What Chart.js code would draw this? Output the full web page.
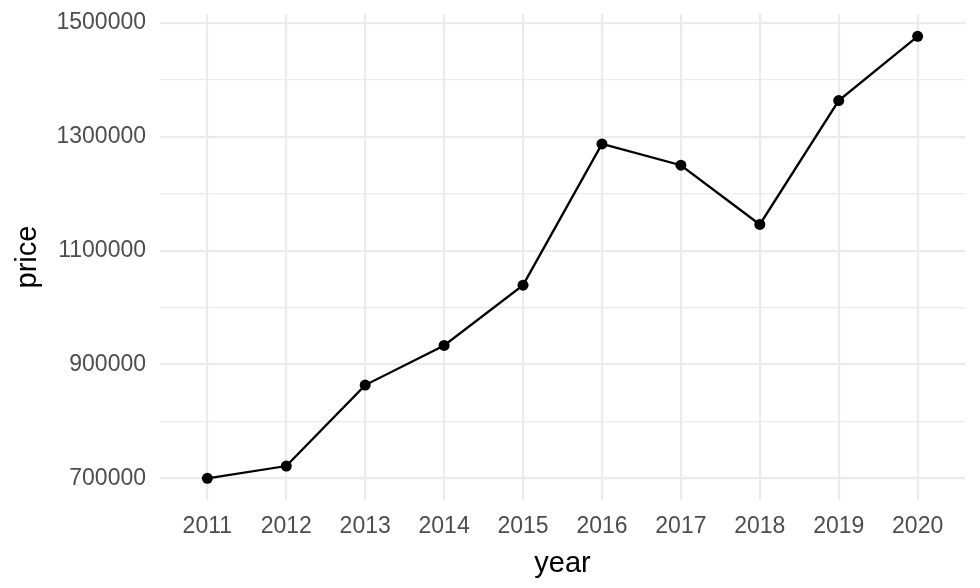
<!DOCTYPE html>
<html>
<head>
    <title>price by year</title>
    <script src="https://cdn.jsdelivr.net/npm/chart.js"></script>
    <style>
        html, body { margin: 0; padding: 0; background: #fff; }
        #wrap { width: 980px; height: 588px; }
    </style>
</head>
<body>
    <div id="wrap"><canvas id="priceChart" width="980" height="588"></canvas></div>

    <script>
    const years = [2011, 2012, 2013, 2014, 2015, 2016, 2017, 2018, 2019, 2020];
    const prices = [700000, 721600, 863800, 933500, 1039400, 1287500, 1250100, 1146000, 1363700, 1476600];
    const yGridValues = [700000, 800000, 900000, 1000000, 1100000, 1200000, 1300000, 1400000, 1500000];
    const yLabelValues = [700000, 900000, 1100000, 1300000, 1500000];

    const tickFont = { family: "'Liberation Sans', Arial, sans-serif", size: 23 };
    const titleFont = { family: "'Liberation Sans', Arial, sans-serif", size: 29 };

    new Chart(document.getElementById('priceChart').getContext('2d'), {
        type: 'line',
        data: {
            datasets: [{
                label: 'price',
                data: years.map((y, i) => ({ x: y, y: prices[i] })),
                borderColor: '#000',
                backgroundColor: '#000',
                borderWidth: 2.3,
                pointRadius: 5.5,
                pointBorderWidth: 0,
                tension: 0,
                fill: false
            }]
        },
        options: {
            responsive: false,
            animation: false,
            layout: { padding: { left: 0, right: 15, top: 14, bottom: 0 } },
            plugins: { legend: { display: false }, tooltip: { enabled: false } },
            scales: {
                x: {
                    type: 'linear',
                    min: 2010.4,
                    max: 2020.6,
                    afterBuildTicks: axis => { axis.ticks = years.map(v => ({ value: v })); },
                    afterFit: axis => { axis.height = 88; axis.paddingLeft = 0; axis.paddingRight = 0; },
                    ticks: { color: '#4D4D4D', font: tickFont, padding: 13, maxRotation: 0, callback: v => String(v) },
                    grid: { color: '#EBEBEB', lineWidth: 2.2, drawTicks: false },
                    border: { display: false },
                    title: { display: true, text: 'year', color: '#000', font: titleFont, padding: { top: 0, bottom: 7 } }
                },
                y: {
                    min: 661900,
                    max: 1515800,
                    afterBuildTicks: axis => { axis.ticks = yGridValues.map(v => ({ value: v })); },
                    afterFit: axis => { axis.width = 160; axis.paddingTop = 0; axis.paddingBottom = 0; },
                    ticks: {
                        color: '#4D4D4D', font: tickFont, padding: 14,
                        callback: v => yLabelValues.includes(v) ? String(v) : ''
                    },
                    grid: {
                        color: '#EBEBEB',
                        lineWidth: c => (c.tick && yLabelValues.includes(c.tick.value)) ? 2.2 : 1.2,
                        drawTicks: false
                    },
                    border: { display: false },
                    title: { display: true, text: 'price', color: '#000', font: titleFont, padding: { top: 11, bottom: 0 } }
                }
            }
        }
    });
    </script>
</body>
</html>
